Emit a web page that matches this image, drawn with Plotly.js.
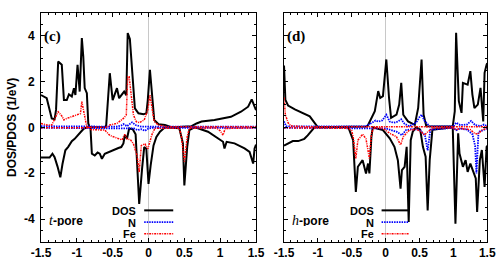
<!DOCTYPE html>
<html>
<head>
<meta charset="utf-8">
<script src="https://cdn.plot.ly/plotly-3.0.1.min.js"></script>
<style>html,body{margin:0;padding:0;background:#fff;}#chart{width:498px;height:264px;}</style>
</head>
<body>
<div id="chart"></div>
<script>
// ---- tick labels ----
const xTickVals = [-1.5, -1, -0.5, 0, 0.5, 1, 1.5];
const xTickText = ["-1.5", "-1", "-0.5", "0", "0.5", "1", "1.5"];
const yTickVals = [-4, -2, 0, 2, 4];
const yTickText = ["-4", "-2", "0", "2", "4"];

// ---- panel (c): t-pore ----
const cDosUpX = [-1.5,-1.42,-1.35,-1.31,-1.29,-1.26,-1.21,-1.18,-1.14,-1.11,-1.07,-1.04,-1.02,-0.99,-0.96,-0.93,-0.91,-0.89,-0.86,-0.84,-0.82,-0.6,-0.59,-0.54,-0.5,-0.44,-0.41,-0.34,-0.31,-0.29,-0.26,-0.22,-0.19,-0.14,-0.07,-0.03,-0.01,0.02,0.05,0.08,0.14,0.23,0.3,0.36,0.6,0.67,0.74,0.92,1.15,1.29,1.39,1.44,1.48,1.5];
const cDosUpY = [1.41,1.27,0.39,0.35,0.76,2.87,2.73,1.19,1.19,1.44,1.34,1.71,1.41,2.73,1.56,3.89,3.09,1.71,1.49,0.17,0,0,0.1,2.36,1.19,1.71,1.27,1.56,1.4,4.11,3.85,1.93,0.83,0.61,0.57,0.61,1.19,2.51,1.34,0.32,0.14,0.1,0.03,0,0.05,0.17,0.25,0.32,0.46,0.68,0.9,1.22,0.9,0.75];
const cDosDnX = [-1.5,-1.38,-1.34,-1.31,-1.27,-1.23,-1.2,-1.16,-1.12,-1.07,-1.03,-0.98,-0.93,-0.9,-0.85,-0.81,-0.8,-0.79,-0.75,-0.71,-0.68,-0.65,-0.61,-0.54,-0.47,-0.42,-0.38,-0.35,-0.33,-0.3,-0.27,-0.22,-0.18,-0.16,-0.13,-0.09,-0.06,-0.03,0.0,0.03,0.07,0.11,0.16,0.23,0.43,0.48,0.5,0.54,0.57,0.64,0.69,0.83,0.97,1.04,1.06,1.09,1.2,1.34,1.41,1.46,1.48,1.5];
const cDosDnY = [-1.32,-1.32,-1.15,-1.3,-1.7,-2.18,-1.6,-1.0,-0.85,-0.6,-0.5,-0.3,-0.15,-0.05,0,0,-0.6,-1.15,-1.23,-1.1,-1.15,-1.37,-1.15,-1.05,-0.94,-0.9,-0.86,-0.7,-0.34,-0.5,-0.05,-0.08,-0.3,-1.66,-3.34,-1.81,-0.86,-0.94,-2.47,-1.66,-0.79,-0.42,-0.19,0,-0.04,-0.7,-2.53,-0.85,-0.12,0,-0.04,-0.19,-0.48,-0.63,-0.92,-0.63,-0.7,-0.92,-1.07,-1.58,-0.92,-0.75];
const cNUpX = [-1.5,-0.45,-0.38,-0.35,-0.3,-0.27,-0.23,-0.18,-0.1,1.5];
const cNUpY = [0.05,0.03,0.08,0.14,0.05,0.12,0.22,0.1,0.03,0.03];
const cNDnX = [-1.5,-0.3,-0.2,-0.15,-0.1,-0.05,0.0,0.05,1.5];
const cNDnY = [-0.02,-0.02,-0.05,-0.12,-0.08,-0.15,-0.05,-0.02,-0.02];
const cFeUpX = [-1.5,-1.42,-1.35,-1.3,-1.26,-1.21,-1.18,-1.14,-1.07,-0.99,-0.95,-0.93,-0.91,-0.89,-0.86,-0.58,-0.54,-0.44,-0.35,-0.31,-0.29,-0.27,-0.23,-0.21,-0.17,-0.13,-0.06,-0.01,0.02,0.04,0.08,0.14,0.25,1.5];
const cFeUpY = [0.17,0.1,0.1,0.46,0.68,0.5,0.32,0.39,0.46,0.54,0.6,1.12,0.75,0.39,0,0,0.1,0.17,0.39,0.54,2.21,2.21,1.19,0.54,0.25,0.2,0.32,0.76,1.41,0.97,0.25,0.1,0.03,0.03];
const cFeDnX = [-1.5,-0.82,-0.8,-0.7,-0.61,-0.54,-0.47,-0.4,-0.37,-0.33,-0.3,-0.25,-0.21,-0.16,-0.13,-0.1,-0.05,-0.01,0.02,0.05,0.09,0.3,0.43,0.46,0.5,0.54,0.57,0.95,1.0,1.04,1.07,1.5];
const cFeDnY = [-0.02,-0.02,-0.1,-0.12,-0.12,-0.35,-0.42,-0.5,-0.55,-0.3,-0.5,-0.55,-0.72,-1.23,-1.96,-0.79,-0.72,-0.94,-0.57,-0.3,-0.04,-0.02,-0.04,-0.41,-1.5,-0.41,-0.04,-0.03,-0.15,-0.34,-0.05,-0.02];

// ---- panel (d): h-pore ----
const dDosUpX = [-1.5,-1.48,-1.44,-1.34,-1.12,-1.05,-1.0,-0.27,-0.21,-0.16,-0.11,-0.08,-0.04,0.01,0.05,0.08,0.16,0.2,0.23,0.26,0.33,0.38,0.43,0.48,0.53,0.56,0.6,0.99,1.02,1.04,1.08,1.12,1.14,1.21,1.25,1.28,1.31,1.36,1.4,1.44,1.46,1.49,1.5];
const dDosUpY = [2.7,1.2,0.95,0.78,0.48,0.2,0,0.04,0.41,0.7,1.58,1.28,1.36,2.96,1.28,0.41,0.55,0.99,1.94,0.55,0.26,0.19,0.11,0.85,2.96,0.55,0.05,0.04,0.7,4.12,1.14,0.63,1.94,1.86,2.45,1.43,0.84,0.99,1.72,0.26,2.38,2.74,2.8];
const dDosDnX = [-1.5,-1.37,-1.29,-1.2,-1.15,-1.1,-1.05,-0.55,-0.48,-0.44,-0.41,-0.34,-0.29,-0.26,-0.24,-0.21,-0.19,-0.14,-0.04,0.06,0.13,0.18,0.22,0.24,0.28,0.31,0.34,0.37,0.4,0.45,0.51,0.55,0.59,0.62,0.65,0.69,0.99,1.03,1.07,1.09,1.14,1.18,1.21,1.25,1.29,1.33,1.35,1.39,1.42,1.46,1.49,1.5];
const dDosDnY = [-0.8,-0.6,-0.6,-0.5,-0.35,-0.15,0,0,-0.56,-2.82,-1.72,-1.43,-2.01,-1.58,-2.01,-0.41,0,-0.04,-0.12,-0.48,-0.85,-1.43,-2.67,-1.87,-1.72,-0.85,-4.13,-0.56,-0.19,0,-0.1,-0.85,-1.28,-3.62,-1.43,-0.1,0,-4.2,-0.26,-1.14,-1.72,-1.43,-1.94,-1.58,-1.87,-2.23,-3.69,-1.43,-0.99,-2.6,-0.85,-0.8];
const dNUpX = [-1.5,-1.47,-1.42,-0.3,-0.2,-0.15,-0.11,-0.05,0.01,0.06,0.12,0.18,0.23,0.28,0.35,0.45,0.5,0.53,0.57,0.65,1.0,1.04,1.1,1.2,1.26,1.32,1.4,1.45,1.5];
const dNUpY = [0.26,0.05,0.04,0.04,0.2,0.3,0.25,0.3,0.55,0.25,0.2,0.25,0.35,0.15,0.05,0.2,0.45,0.55,0.3,0.04,0.04,0.2,0.1,0.12,0.28,0.1,0.05,0.12,0.05];
const dNDnX = [-1.5,-0.1,0.0,0.08,0.16,0.24,0.3,0.38,0.5,0.58,0.62,0.66,1.0,1.04,1.1,1.2,1.28,1.32,1.34,1.37,1.45,1.5];
const dNDnY = [-0.02,-0.02,-0.05,-0.12,-0.19,-0.34,-0.12,-0.08,-0.1,-0.35,-1.0,-0.1,-0.02,-0.12,-0.05,-0.1,-0.3,-0.8,-2.01,-0.2,-0.1,-0.05];
const dFeUpX = [-1.5,-1.48,-1.44,-1.4,-1.2,1.5];
const dFeUpY = [1.3,0.55,0.2,0.06,0.03,0.03];
const dFeDnX = [-1.5,-0.55,-0.5,-0.48,-0.44,-0.41,-0.34,-0.29,-0.24,-0.21,-0.18,-0.04,0.06,0.16,0.22,0.26,0.35,0.45,0.53,0.57,0.62,0.7,1.0,1.04,1.1,1.25,1.31,1.36,1.42,1.5];
const dFeDnY = [-0.02,-0.04,-0.15,-0.41,-1.36,-0.56,-0.3,-0.5,-1.36,-0.3,-0.02,-0.04,-0.26,-0.41,-0.77,-0.41,-0.12,-0.08,-0.2,-0.34,-0.2,-0.03,-0.03,-0.1,-0.05,-0.1,-0.26,-0.3,-0.12,-0.04];

const seriesNames = ["DOS", "N", "Fe"];
const panelLabels = ["(c)", "(d)"];

// ---- styles ----
const styles = {
  DOS: {color: "#000000", width: 2, dash: "solid"},
  N:   {color: "#0000ff", width: 1.8, dash: "1.5px,1px"},
  Fe:  {color: "#ff0000", width: 1.5, dash: "2px,1px,1px,1px"}
};

function tr(x, y, name, xa, ya) {
  return {x: x, y: y, type: "scatter", mode: "lines", name: name, showlegend: false,
          xaxis: xa, yaxis: ya, line: styles[name], hoverinfo: "skip"};
}

const data = [
  tr(cDosUpX, cDosUpY, "DOS", "x", "y"), tr(cDosDnX, cDosDnY, "DOS", "x", "y"),
  tr(cNUpX, cNUpY, "N", "x", "y"), tr(cNDnX, cNDnY, "N", "x", "y"),
  tr(cFeUpX, cFeUpY, "Fe", "x", "y"), tr(cFeDnX, cFeDnY, "Fe", "x", "y"),
  tr(dDosUpX, dDosUpY, "DOS", "x2", "y2"), tr(dDosDnX, dDosDnY, "DOS", "x2", "y2"),
  tr(dNUpX, dNUpY, "N", "x2", "y2"), tr(dNDnX, dNDnY, "N", "x2", "y2"),
  tr(dFeUpX, dFeUpY, "Fe", "x2", "y2"), tr(dFeDnX, dFeDnY, "Fe", "x2", "y2")
];

const sansB = {family: "Liberation Sans, Arial, sans-serif", size: 12, color: "#000", weight: "bold"};

function xAxis(domain, anchor) {
  return {domain: domain, anchor: anchor, range: [-1.5, 1.5], tickmode: "array",
    tickvals: xTickVals, ticktext: xTickText, ticks: "inside", ticklen: 4, tickwidth: 1,
    tickcolor: "#000", mirror: "allticks", showline: true, linecolor: "#000", linewidth: 1,
    showgrid: false, zeroline: true, zerolinecolor: "#c8c8c8", zerolinewidth: 1,
    minor: {dtick: 0.1, ticks: "inside", ticklen: 2, tickcolor: "#000", showgrid: false},
    tickfont: sansB, fixedrange: true, automargin: false};
}
function yAxis(domain, anchor, labels) {
  return {domain: domain, anchor: anchor, range: [-5, 5], tickmode: "array",
    tickvals: yTickVals, ticktext: yTickText, showticklabels: labels, ticks: "inside",
    ticklen: 4, tickwidth: 1, tickcolor: "#000", mirror: "allticks", showline: true,
    linecolor: "#000", linewidth: 1, showgrid: false, zeroline: false,
    minor: {dtick: 0.5, ticks: "inside", ticklen: 2, tickcolor: "#000", showgrid: false},
    tickfont: sansB, ticklabelstandoff: 3, fixedrange: true, automargin: false};
}

const yDom = [0.0833, 0.952];
const layout = {
  width: 498, height: 264,
  margin: {l: 0, r: 0, t: 0, b: 0},
  paper_bgcolor: "#fff", plot_bgcolor: "#fff",
  showlegend: false,
  xaxis: xAxis([0.0823, 0.5141], "y"),
  yaxis: Object.assign(yAxis(yDom, "x", true), {
    title: {text: "DOS/PDOS (1/eV)", font: sansB, standoff: 4}
  }),
  xaxis2: xAxis([0.5703, 0.9785], "y2"),
  yaxis2: yAxis(yDom, "x2", false),
  annotations: [],
  shapes: []
};

const panels = [{xa: "x", ya: "y", title: panelLabels[0], tag: "t"}, {xa: "x2", ya: "y2", title: panelLabels[1], tag: "h"}];
const legendY = [0.138, 0.087, 0.036];
panels.forEach(function (p) {
  const xd = p.xa + " domain";
  const yd = p.ya + " domain";
  layout.annotations.push({xref: xd, yref: yd, x: 0.005, y: 0.898, xanchor: "left", yanchor: "middle",
    text: "<b>" + p.title + "</b>", showarrow: false,
    font: {family: "Liberation Serif, Times New Roman, serif", size: 15, color: "#000"}});
  layout.annotations.push({xref: xd, yref: yd, x: 0.03, y: 0.096, xanchor: "left", yanchor: "middle",
    text: "<span style=\"font-family:'Liberation Serif',serif;font-style:italic;font-size:14px\">" + p.tag + "</span><b>-pore</b>",
    showarrow: false, height: 12,
    font: {family: "Liberation Sans, Arial, sans-serif", size: 12, color: "#000"}});
  seriesNames.forEach(function (s, k) {
    layout.annotations.push({xref: xd, yref: yd, x: 0.448, y: legendY[k], xanchor: "right", yanchor: "middle",
      text: "<b>" + s + "</b>", showarrow: false, height: 9, borderpad: 0,
      font: {family: "Liberation Sans, Arial, sans-serif", size: 11, color: "#000"}});
    layout.shapes.push({type: "line", xref: xd, yref: yd, x0: 0.48, x1: 0.615, y0: legendY[k], y1: legendY[k],
      line: styles[s]});
  });
});

Plotly.newPlot("chart", data, layout, {staticPlot: true, displayModeBar: false});
</script>
</body>
</html>
